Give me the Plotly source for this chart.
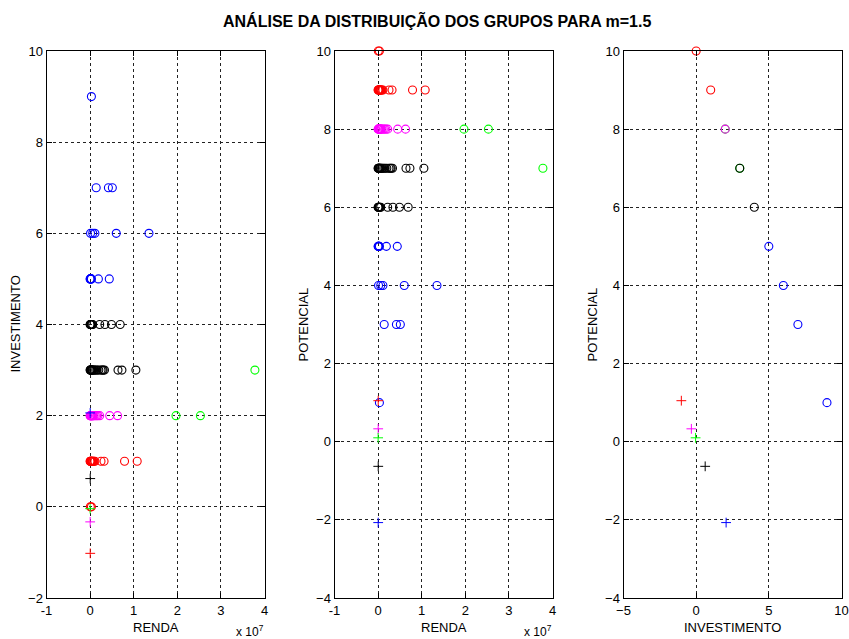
import plotly.graph_objects as go

# Cluster members: RENDA (R$), INVESTIMENTO and POTENCIAL
RENDA_VERMELHO = [0.005e7, 0.03e7,
                  0.0, 0.005e7, 0.01e7, 0.015e7, 0.02e7, 0.03e7, 0.04e7, 0.05e7,
                  0.06e7, 0.07e7, 0.09e7, 0.11e7, 0.25e7, 0.32e7, 0.79e7, 1.08e7]
INVEST_VERMELHO = [0, 0] + [1] * 16
POTENC_VERMELHO = [10, 10] + [9] * 16

RENDA_MAGENTA = [0.0, 0.005e7, 0.01e7, 0.015e7, 0.02e7, 0.03e7, 0.04e7, 0.05e7,
                 0.06e7, 0.07e7, 0.09e7, 0.12e7, 0.15e7, 0.18e7, 0.22e7,
                 0.45e7, 0.63e7]
INVEST_MAGENTA = [2] * 17
POTENC_MAGENTA = [8] * 17

RENDA_VERDE = [1.97e7, 2.53e7, 3.78e7]
INVEST_VERDE = [2, 2, 3]
POTENC_VERDE = [8, 8, 7]

RENDA_PRETO = [0.0, 0.005e7, 0.01e7, 0.015e7, 0.02e7, 0.03e7, 0.04e7, 0.05e7,
               0.06e7, 0.08e7, 0.10e7, 0.13e7, 0.16e7, 0.20e7, 0.25e7, 0.28e7,
               0.30e7, 0.33e7, 0.64e7, 0.73e7, 1.05e7,
               0.0, 0.005e7, 0.01e7, 0.02e7, 0.03e7, 0.04e7, 0.06e7, 0.22e7,
               0.34e7, 0.49e7, 0.69e7]
INVEST_PRETO = [3] * 21 + [4] * 11
POTENC_PRETO = [7] * 21 + [6] * 11

RENDA_AZUL = [0.0, 0.005e7, 0.01e7, 0.015e7, 0.02e7, 0.03e7, 0.19e7, 0.44e7,
              0.01e7, 0.06e7, 0.11e7, 0.60e7, 1.35e7,
              0.14e7, 0.42e7, 0.51e7,
              0.03e7]
INVEST_AZUL = [5] * 8 + [6] * 5 + [7] * 3 + [9]
POTENC_AZUL = [5] * 8 + [4] * 5 + [3] * 3 + [1]

# Cluster centres (m = 1.5)
CENTRO_RENDA = [3e4, 2e4, 1e4, 3e4, 2e4]
CENTRO_INVEST = [-1.02, -0.33, -0.04, 0.62, 2.06]
CENTRO_POTENC = [1.05, 0.33, 0.10, -0.63, -2.07]
CENTRO_COR = ["#ff0000", "#ff00ff", "#00ff00", "#000000", "#0000ff"]

RENDA_TICKS = [-1e7, 0, 1e7, 2e7, 3e7, 4e7]
RENDA_TICKTEXT = ["-1", "0", "1", "2", "3", "4"]

grupos = [
    ("#00ff00", RENDA_VERDE, INVEST_VERDE, POTENC_VERDE),
    ("#ff0000", RENDA_VERMELHO, INVEST_VERMELHO, POTENC_VERMELHO),
    ("#ff00ff", RENDA_MAGENTA, INVEST_MAGENTA, POTENC_MAGENTA),
    ("#000000", RENDA_PRETO, INVEST_PRETO, POTENC_PRETO),
    ("#0000ff", RENDA_AZUL, INVEST_AZUL, POTENC_AZUL),
]

W, H = 849, 639
FONT = "Liberation Sans, Arial, Helvetica, sans-serif"

fig = go.Figure()


def circles(x, y, cor, ax):
    fig.add_trace(go.Scatter(
        x=x, y=y, mode="markers", xaxis="x" + ax, yaxis="y" + ax,
        marker=dict(symbol="circle-open", size=8, color=cor,
                    line=dict(width=1.1, color=cor)),
        cliponaxis=False, showlegend=False, hoverinfo="x+y"))


def crosses(x, y, ax):
    fig.add_trace(go.Scatter(
        x=x, y=y, mode="markers", xaxis="x" + ax, yaxis="y" + ax,
        marker=dict(symbol="cross-thin-open", size=7, color=CENTRO_COR,
                    line=dict(width=1, color=CENTRO_COR)),
        cliponaxis=False, showlegend=False, hoverinfo="x+y"))


for cor, renda, inv, pot in grupos:
    circles(renda, inv, cor, "")
    circles(renda, pot, cor, "2")
    # coincident (INVESTIMENTO, POTENCIAL) pairs drawn once
    pares = sorted(set(zip(inv, pot)))
    circles([p[0] for p in pares], [p[1] for p in pares], cor, "3")

crosses(CENTRO_RENDA, CENTRO_INVEST, "")
crosses(CENTRO_RENDA, CENTRO_POTENC, "2")
crosses(CENTRO_INVEST, CENTRO_POTENC, "3")

y0, y1 = 1 - 598 / H, 1 - 51 / H
doms = [(46.5, 264.5), (334.5, 552.5), (623.5, 841.5)]

axis_common = dict(
    showline=True, linecolor="black", linewidth=1, mirror="ticks",
    ticks="inside", ticklen=5, tickcolor="black", tickwidth=1,
    showgrid=True, gridcolor="#222222", gridwidth=1, griddash="3px,3px",
    zeroline=False, tickfont=dict(family=FONT, size=13, color="black"),
    fixedrange=True, automargin=False,
)

layout = dict(
    width=W, height=H, margin=dict(l=0, r=0, t=0, b=0, autoexpand=False),
    paper_bgcolor="white", plot_bgcolor="white",
    font=dict(family=FONT, size=13, color="black"),
)

layout["xaxis"] = dict(axis_common, domain=[doms[0][0] / W, doms[0][1] / W],
                       range=[-1e7, 4e7], tickvals=RENDA_TICKS,
                       ticktext=RENDA_TICKTEXT, anchor="y")
layout["yaxis"] = dict(axis_common, domain=[y0, y1], range=[-2, 10],
                       dtick=2, anchor="x")
layout["xaxis2"] = dict(axis_common, domain=[doms[1][0] / W, doms[1][1] / W],
                        range=[-1e7, 4e7], tickvals=RENDA_TICKS,
                        ticktext=RENDA_TICKTEXT, anchor="y2")
layout["yaxis2"] = dict(axis_common, domain=[y0, y1], range=[-4, 10],
                        dtick=2, anchor="x2")
layout["xaxis3"] = dict(axis_common, domain=[doms[2][0] / W, doms[2][1] / W],
                        range=[-5, 10], dtick=5, anchor="y3")
layout["yaxis3"] = dict(axis_common, domain=[y0, y1], range=[-4, 10],
                        dtick=2, anchor="x3")

fig.update_layout(**layout)


def note(text, px, py, size=13, angle=0, bold=False, xanchor="center"):
    if bold:
        text = "<b>" + text + "</b>"
    fig.add_annotation(text=text, x=px / W, y=1 - py / H, xref="paper",
                       yref="paper", showarrow=False, textangle=angle,
                       xanchor=xanchor, yanchor="middle",
                       font=dict(family=FONT, size=size, color="black"))


note("ANÁLISE DA DISTRIBUIÇÃO DOS GRUPOS PARA m=1.5", 436.5, 20, size=16, bold=True)
note("RENDA", 155.5, 627)
note("RENDA", 443.5, 627)
note("INVESTIMENTO", 732.5, 627)
note("INVESTIMENTO", 15, 324.5, angle=-90)
note("POTENCIAL", 303, 324.5, angle=-90)
note("POTENCIAL", 592, 324.5, angle=-90)
note("x 10<sup>7</sup>", 234, 631, size=12, xanchor="left")
note("x 10<sup>7</sup>", 522, 631, size=12, xanchor="left")

fig.write_html("out.html")
